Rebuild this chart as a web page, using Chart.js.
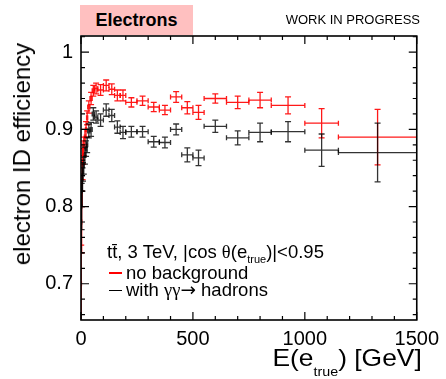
<!DOCTYPE html>
<html>
<head>
<meta charset="utf-8">
<script src="https://cdn.jsdelivr.net/npm/chart.js@4.4.0/dist/chart.umd.min.js"></script>
<style>
body { margin: 0; background: #fff; }
#wrap { position: relative; width: 446px; height: 379px; font-family: "Liberation Sans", Arial, sans-serif; color: #000; }
#chart { position: absolute; left: 0; top: 0; }
.lbl { position: absolute; white-space: nowrap; }
#tag { left: 80px; top: 5px; width: 113px; height: 30px; background: #ffc0c0; font-weight: bold; font-size: 18px; line-height: 30px; text-align: center; }
#wip { right: 26px; top: 13px; font-size: 13px; line-height: 13px; }
#ytitle { left: 22px; top: 154px; transform: translate(-50%, -50%) rotate(-90deg); font-size: 24px; line-height: 24px; }
#xtitle { right: 24px; top: 346px; font-size: 24px; line-height: 24px; transform-origin: right center; transform: scaleX(1.1); }
.sub { position: relative; top: 10px; font-size: 13px; }
#legend { left: 107px; top: 243px; font-size: 18.5px; line-height: 17.7px; }
#legend .sub { top: 5px; font-size: 11px; }
.sym { font-family: "Liberation Serif", serif; }
.arr { font-family: "DejaVu Sans", sans-serif; }
.ln { display: inline-block; width: 13px; height: 1.5px; vertical-align: 5px; margin: 0 4px 0 2px; }
</style>
</head>
<body>
<div id="wrap">
  <canvas id="chart" width="446" height="379"></canvas>
  <div class="lbl" id="tag">Electrons</div>
  <div class="lbl" id="wip">WORK IN PROGRESS</div>
  <div class="lbl" id="ytitle">electron ID efficiency</div>
  <div class="lbl" id="xtitle">E(e<span class="sub">true</span>) [GeV]</div>
  <div class="lbl" id="legend">
    <div>tt̄, 3 TeV, |cos <span class="sym">θ</span>(e<span class="sub">true</span>)|&lt;0.95</div>
    <div><span class="ln" style="background:#f00"></span>no background</div>
    <div><span class="ln" style="background:#000"></span>with <span class="sym">γγ</span><span class="arr">→</span> hadrons</div>
  </div>
</div>
<script>
// bin centres and half widths in GeV
const energy = [1, 3, 5, 7, 9, 12.5, 17.5, 22.5, 27.5, 35, 45, 55, 67.5, 87.5, 112.5, 137.5, 162.5, 187.5,
  225, 275, 325, 375, 425, 475, 525, 600, 700, 800, 925, 1075, 1325];
const halfWidth = [1, 1, 1, 1, 1, 2.5, 2.5, 2.5, 2.5, 5, 5, 5, 7.5, 12.5, 12.5, 12.5, 12.5, 12.5,
  25, 25, 25, 25, 25, 25, 25, 50, 50, 50, 75, 75, 175];

// no background (red)
const effNoBkg = [0.70, 0.78, 0.83, 0.855, 0.87, 0.878, 0.89, 0.90, 0.915, 0.929, 0.940, 0.950, 0.953, 0.951,
  0.957, 0.952, 0.944, 0.944, 0.935, 0.937, 0.929, 0.925, 0.942, 0.928, 0.922, 0.940, 0.935, 0.938, 0.931, 0.908, 0.890];
const errNoBkg = [0.05, 0.04, 0.03, 0.02, 0.015, 0.012, 0.01, 0.01, 0.009, 0.008, 0.008, 0.007, 0.007, 0.007,
  0.007, 0.007, 0.007, 0.007, 0.006, 0.006, 0.006, 0.006, 0.007, 0.008, 0.009, 0.006, 0.008, 0.010, 0.011, 0.019, 0.036];

// with gamma gamma -> hadrons (black)
const effBkg = [0.78, 0.80, 0.82, 0.835, 0.845, 0.853, 0.866, 0.875, 0.88, 0.898, 0.900, 0.920, 0.916, 0.912,
  0.925, 0.918, 0.903, 0.896, 0.897, 0.897, 0.884, 0.883, 0.900, 0.867, 0.863, 0.904, 0.889, 0.896, 0.897, 0.873, 0.870];
const errBkg = [0.04, 0.03, 0.02, 0.015, 0.012, 0.011, 0.011, 0.01, 0.01, 0.009, 0.009, 0.008, 0.008, 0.008,
  0.008, 0.008, 0.008, 0.008, 0.007, 0.007, 0.007, 0.007, 0.007, 0.009, 0.01, 0.008, 0.009, 0.012, 0.013, 0.021, 0.038];

const xTicks = [0, 500, 1000, 1500];
const yTicks = [0.7, 0.8, 0.9, 1.0];
const font = "'Liberation Sans', Arial, sans-serif";

const errorBars = {
  id: 'errorBars',
  afterDatasetsDraw(chart) {
    const { ctx, chartArea: a, scales: { x, y } } = chart;
    ctx.save();
    ctx.beginPath();
    ctx.rect(a.left, a.top, a.right - a.left, a.bottom - a.top);
    ctx.clip();
    ctx.lineWidth = 1.3;
    chart.data.datasets.forEach(ds => {
      ctx.strokeStyle = ds.borderColor;
      ds.data.forEach((p, i) => {
        const px = x.getPixelForValue(p.x);
        const x0 = x.getPixelForValue(p.x - ds.xErr[i]);
        const x1 = x.getPixelForValue(p.x + ds.xErr[i]);
        const py = y.getPixelForValue(p.y);
        const y0 = y.getPixelForValue(p.y - ds.yErr[i]);
        const y1 = y.getPixelForValue(p.y + ds.yErr[i]);
        ctx.beginPath();
        ctx.moveTo(x0, py); ctx.lineTo(x1, py);
        ctx.moveTo(x0, py - 2.5); ctx.lineTo(x0, py + 2.5);
        ctx.moveTo(x1, py - 2.5); ctx.lineTo(x1, py + 2.5);
        ctx.moveTo(px, y0); ctx.lineTo(px, y1);
        ctx.moveTo(px - 3, y0); ctx.lineTo(px + 3, y0);
        ctx.moveTo(px - 3, y1); ctx.lineTo(px + 3, y1);
        ctx.stroke();
      });
    });
    ctx.restore();
  }
};

// ROOT style frame with inward ticks on all four sides
const frame = {
  id: 'frame',
  afterDraw(chart) {
    const { ctx, chartArea: a, scales: { x, y } } = chart;
    ctx.save();
    ctx.strokeStyle = '#000';
    ctx.lineWidth = 1.2;
    ctx.beginPath();
    for (let v = 0; v <= 1500; v += 100) {
      const px = x.getPixelForValue(v);
      const L = v % 500 === 0 ? 8 : 4;
      ctx.moveTo(px, a.bottom); ctx.lineTo(px, a.bottom - L);
      ctx.moveTo(px, a.top); ctx.lineTo(px, a.top + L);
    }
    for (let k = 33; k <= 51; k++) {
      const py = y.getPixelForValue(k * 0.02);
      const L = k % 5 === 0 ? 8 : 4;
      ctx.moveTo(a.left, py); ctx.lineTo(a.left + L, py);
      ctx.moveTo(a.right, py); ctx.lineTo(a.right - L, py);
    }
    ctx.stroke();
    ctx.lineWidth = 1.6;
    ctx.strokeRect(a.left, a.top, a.right - a.left, a.bottom - a.top);
    ctx.restore();
  }
};

new Chart(document.getElementById('chart'), {
  type: 'scatter',
  data: {
    datasets: [
      {
        label: 'no background',
        data: energy.map((e, i) => ({ x: e, y: effNoBkg[i] })),
        xErr: halfWidth, yErr: errNoBkg,
        borderColor: 'rgba(255,0,0,0.9)', pointRadius: 0
      },
      {
        label: 'with γγ→ hadrons',
        data: energy.map((e, i) => ({ x: e, y: effBkg[i] })),
        xErr: halfWidth, yErr: errBkg,
        borderColor: 'rgba(0,0,0,0.8)', pointRadius: 0
      }
    ]
  },
  options: {
    responsive: false,
    animation: false,
    layout: { padding: { top: 36, right: 25, left: 0, bottom: 0 } },
    plugins: { legend: { display: false }, tooltip: { enabled: false } },
    scales: {
      x: {
        type: 'linear', min: 0, max: 1500,
        grid: { display: false, drawTicks: false }, border: { display: false },
        afterBuildTicks: s => { s.ticks = xTicks.map(v => ({ value: v })); },
        ticks: {
          autoSkip: false, padding: 7, maxRotation: 0, color: '#000', font: { size: 20, family: font },
          callback: v => String(v)
        },
        afterFit: s => { s.height = 59; }
      },
      y: {
        min: 0.653, max: 1.021,
        grid: { display: false, drawTicks: false }, border: { display: false },
        afterBuildTicks: s => { s.ticks = yTicks.map(v => ({ value: v })); },
        ticks: {
          padding: 8, color: '#000', font: { size: 20, family: font },
          callback: v => Math.abs(v - 1) < 1e-9 ? '1' : v.toFixed(1)
        },
        afterFit: s => { s.width = 81; }
      }
    }
  },
  plugins: [errorBars, frame]
});
</script>
</body>
</html>
